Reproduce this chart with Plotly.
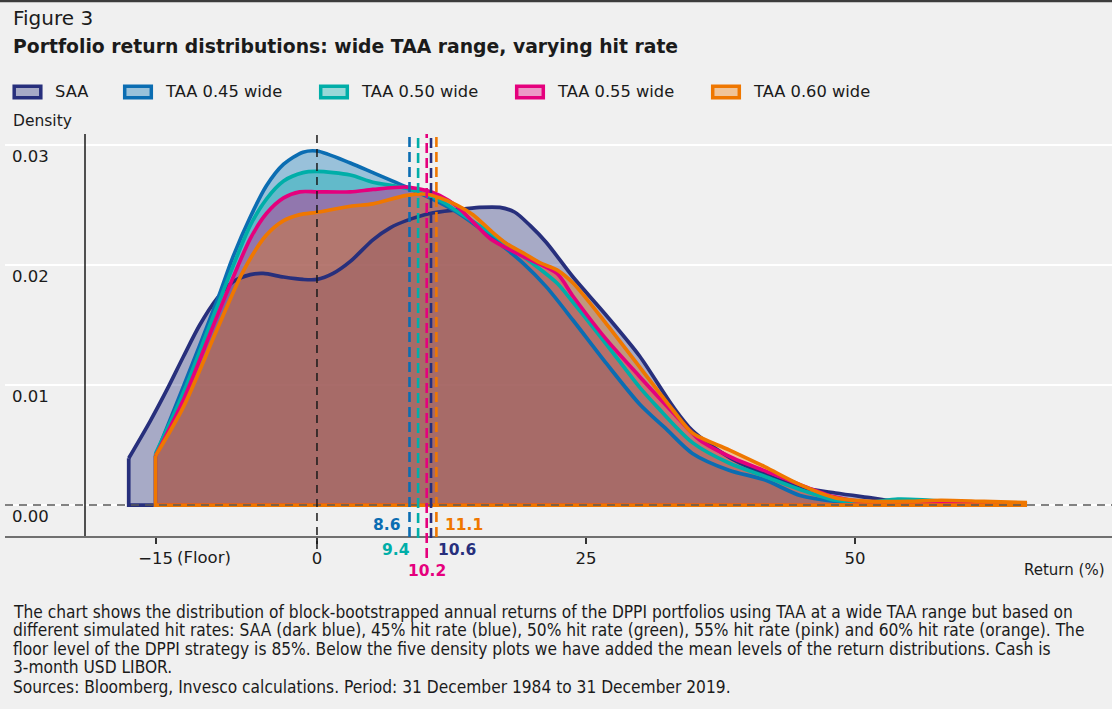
import plotly.graph_objects as go

# ---------------- data ----------------
names = ["SAA", "TAA 0.45 wide", "TAA 0.50 wide", "TAA 0.55 wide", "TAA 0.60 wide"]
means = [10.6, 8.6, 9.4, 10.2, 11.1]

saa_x = [-17.5, -15.5, -13.9, -12.4, -10.9, -9.3, -7.8, -6.2, -5.0, -3.1, -1.3, 0, 1.5, 3.1, 5.2, 6.8, 8.3,
         10.5, 13, 15.1, 17, 18.4, 19.8, 21.3, 23.8, 26.9, 30, 33.1, 34.9, 38.3, 41.6, 44.9, 48.2,
         51.5, 54, 58, 62, 66]
saa_y = [0.0039, 0.0070, 0.0097, 0.0124, 0.0150, 0.0172, 0.0186, 0.0192, 0.0193, 0.0190, 0.0188, 0.0188,
         0.0193, 0.0203, 0.0221, 0.0231, 0.0237, 0.0243, 0.0246, 0.0248, 0.0248, 0.0244, 0.0233,
         0.0219, 0.0190, 0.0158, 0.0124, 0.0082, 0.0062, 0.0040, 0.0026, 0.0015, 0.0010, 0.0006,
         0.0003, 0.0002, 0.0002, 0.0001]

taa45_x = [-15, -12.45, -9.3, -7.8, -6.2, -4.7, -3.1, -1.3, 0, 3.1, 5.2, 8.3, 11.4, 13, 16.1, 19.1,
           21.3, 23.8, 26.9, 30, 32.5, 34.9, 38.3, 41.6, 44.9, 48.2, 52, 58, 66]
taa45_y = [0.0041, 0.0098, 0.0170, 0.0207, 0.0240, 0.0266, 0.0284, 0.0294, 0.0295, 0.0285, 0.0277,
           0.0265, 0.0252, 0.0244, 0.0224, 0.0202, 0.0182, 0.0154, 0.0118, 0.0084, 0.0063, 0.0043,
           0.0029, 0.0021, 0.0008, 0.0003, 0.0001, 0.0001, 0.0001]

taa50_x = [-15, -12.45, -9.3, -6.2, -4.7, -3.1, -1.3, 0, 3.1, 5.2, 8.3, 11.4, 13, 16.1, 19.2, 22.3,
           23.8, 26.9, 30, 31.6, 34.9, 38.3, 41.6, 44.9, 48.2, 51, 54, 57, 61, 66]
taa50_y = [0.0043, 0.0093, 0.0165, 0.0233, 0.0255, 0.0270, 0.0277, 0.0278, 0.0275, 0.0269, 0.0264,
           0.0254, 0.0245, 0.0227, 0.0207, 0.0185, 0.0169, 0.0134, 0.0098, 0.0082, 0.0052, 0.0035,
           0.0024, 0.0013, 0.0004, 0.0002, 0.0005, 0.0004, 0.0002, 0.0001]

taa55_x = [-15, -12.4, -9.3, -6.2, -4.7, -3.1, -1.6, 0, 3.1, 5.2, 8.3, 10.2, 11.4, 13, 14.5, 16.1,
           19.2, 22.3, 23.8, 26.9, 30, 33.1, 35.6, 38.7, 41.8, 44.9, 48, 50.5, 55, 60, 66]
taa55_y = [0.0041, 0.0088, 0.0157, 0.0222, 0.0243, 0.0256, 0.0261, 0.0261, 0.0261, 0.0263, 0.0265,
           0.0262, 0.0258, 0.0249, 0.0236, 0.0222, 0.0207, 0.0193, 0.0174, 0.0138, 0.0107, 0.0077,
           0.0054, 0.0039, 0.0028, 0.0017, 0.0007, 0.0003, 0.0002, 0.0002, 0.0001]

taa60_x = [-15, -12.4, -9.3, -6.85, -4.7, -3.1, -1.6, 0, 3.1, 5.2, 8.3, 10.2, 11.4, 13, 14.5,
           16.1, 17.6, 19.2, 20.7, 22.3, 23.8, 26.9, 30, 33.1, 34.9, 38.3, 41.6, 44.9, 48.2, 51.5,
           55, 58, 62, 66]
taa60_y = [0.0041, 0.0082, 0.0146, 0.0195, 0.0225, 0.0237, 0.0242, 0.0244, 0.0249, 0.0251,
           0.0258, 0.0259, 0.0256, 0.0250, 0.0242, 0.0229, 0.0218, 0.0210, 0.0202, 0.0196, 0.0185,
           0.0151, 0.0115, 0.0079, 0.0060, 0.0046, 0.0032, 0.0017, 0.0006, 0.0003, 0.0003, 0.0004,
           0.0003, 0.0002]

series_x = [saa_x, taa45_x, taa50_x, taa55_x, taa60_x]
series_y = [saa_y, taa45_y, taa50_y, taa55_y, taa60_y]

x_tickvals = [-15, 0, 25, 50]
x_ticktext = ["\u221215", "0", "25", "50"]
y_tickvals = [0, 0.01, 0.02, 0.03]
y_ticktext = ["0.00", "0.01", "0.02", "0.03"]

note_lines = [
    "The chart shows the distribution of block-bootstrapped annual returns of the DPPI portfolios using TAA at a wide TAA range but based on",
    "different simulated hit rates: SAA (dark blue), 45% hit rate (blue), 50% hit rate (green), 55% hit rate (pink) and 60% hit rate (orange). The",
    "floor level of the DPPI strategy is 85%. Below the five density plots we have added the mean levels of the return distributions. Cash is",
    "3-month USD LIBOR.",
    "Sources: Bloomberg, Invesco calculations. Period: 31 December 1984 to 31 December 2019.",
]

# ---------------- style ----------------
line_colors = ["#272f7c", "#0b6db2", "#00aea8", "#e5007d", "#ef7700"]
fill_colors = ["rgba(39,47,124,0.36)", "rgba(0,110,180,0.36)", "rgba(0,175,176,0.36)",
               "rgba(230,0,126,0.36)", "rgba(240,120,0,0.36)"]
FONT = "DejaVu Sans, Noto Sans, sans-serif"
NOTE_FONT = "DejaVu Sans Condensed, Liberation Sans Narrow, Liberation Sans, sans-serif"
TXT = "#1b1b1b"
BG = "#f0f0f0"

W, H = 1112, 709
ML, MR, MT, MB = 5, 0, 134, 173
PW, PH = W - ML - MR, H - MT - MB


def px(xp):
    return (xp - ML) / PW


def py(yp):
    return (H - MB - yp) / PH


fig = go.Figure()

# fills (all under the outlines)
for xs, ys, fc in zip(series_x, series_y, fill_colors):
    fig.add_trace(go.Scatter(x=xs, y=ys, mode="lines", fill="tozeroy", fillcolor=fc,
                             line=dict(width=0, shape="spline", smoothing=0.8),
                             showlegend=False, hoverinfo="skip"))

# outlines
for xs, ys, lc, nm in zip(series_x, series_y, line_colors, names):
    fig.add_trace(go.Scatter(x=xs, y=ys, mode="lines", name=nm,
                             line=dict(color=lc, width=3.7, shape="spline", smoothing=0.8),
                             showlegend=False))
    fig.add_trace(go.Scatter(x=[xs[0], xs[0], xs[-1]], y=[ys[0], 0, 0], mode="lines",
                             line=dict(color=lc, width=3.7), showlegend=False, hoverinfo="skip"))

shapes = []
# zero-density dashed baseline
shapes.append(dict(type="line", xref="paper", yref="y", x0=0, x1=1, y0=0, y1=0,
                   line=dict(color="#5a5a5a", width=1.6, dash="8px,6px")))
# y axis solid line
shapes.append(dict(type="line", xref="paper", yref="paper", x0=px(85), x1=px(85), y0=0, y1=1,
                   line=dict(color="#1a1a1a", width=1.5)))
# zero return dashed line
shapes.append(dict(type="line", xref="x", yref="paper", x0=0, x1=0, y0=py(549), y1=1,
                   line=dict(color="#1a1a1a", width=1.5, dash="8px,6px")))
# top border
shapes.append(dict(type="line", xref="paper", yref="paper", x0=px(0), x1=px(W), y0=py(1), y1=py(1),
                   line=dict(color="#3c3c3c", width=2.5)))

# mean lines + labels
label_pos = {  # (xanchor, xshift, label y pixel, line bottom pixel)
    0: ("left", 5, 550, 538),
    1: ("right", -8, 525, 537),
    2: ("right", -6, 550, 538),
    3: ("center", 0, 571, 558),
    4: ("left", 7, 525, 537),
}
annotations = []
for i, (m, lc) in enumerate(zip(means, line_colors)):
    xa, xs_, ylab, ybot = label_pos[i]
    shapes.append(dict(type="line", xref="x", yref="paper", x0=m, x1=m, y0=py(ybot), y1=1,
                       line=dict(color=lc, width=2.6, dash="10px,5px")))
    annotations.append(dict(x=m, y=py(ylab), xref="x", yref="paper", text=f"<b>{m:.1f}</b>",
                            showarrow=False, xanchor=xa, yanchor="middle", xshift=xs_,
                            font=dict(family=FONT, size=15.5, color=lc)))

# manual legend (boxes + labels)
legend_x = [12.5, 123, 319, 515, 711]
for lx, nm, lc, fc in zip(legend_x, names, line_colors, fill_colors):
    shapes.append(dict(type="rect", xref="paper", yref="paper", x0=px(lx + 1.7), x1=px(lx + 28.3),
                       y0=py(97.8), y1=py(86.2), line=dict(color=lc, width=3.5), fillcolor=fc))
    annotations.append(dict(x=px(lx + 40), y=py(92), xref="paper", yref="paper", text=nm,
                            showarrow=False, xanchor="left", yanchor="middle",
                            font=dict(family=FONT, size=16.3, color=TXT)))

# titles and labels
annotations += [
    dict(x=px(11), y=py(18), xref="paper", yref="paper", text="Figure 3", showarrow=False,
         xanchor="left", yanchor="middle", font=dict(family=FONT, size=20, color=TXT)),
    dict(x=px(11), y=py(46), xref="paper", yref="paper",
         text="<b>Portfolio return distributions: wide TAA range, varying hit rate</b>",
         showarrow=False, xanchor="left", yanchor="middle", font=dict(family=FONT, size=18.8, color=TXT)),
    dict(x=px(11), y=py(121), xref="paper", yref="paper", text="Density", showarrow=False,
         xanchor="left", yanchor="middle", font=dict(family=FONT, size=15.5, color=TXT)),
    dict(x=px(1107), y=py(570), xref="paper", yref="paper", text="Return (%)", showarrow=False,
         xanchor="right", yanchor="middle", font=dict(family=FONT, size=15, color=TXT)),
    dict(x=-15, y=py(557), xref="x", yref="paper", text="(Floor)", showarrow=False,
         xanchor="left", yanchor="middle", xshift=19, font=dict(family=FONT, size=16.5, color=TXT)),
]
note_y = [611.5, 630, 648.5, 667, 687]
for t, yy in zip(note_lines, note_y):
    annotations.append(dict(x=px(11), y=py(yy), xref="paper", yref="paper", text=t, showarrow=False,
                            xanchor="left", yanchor="middle", align="left",
                            font=dict(family=NOTE_FONT, size=17.2, color=TXT)))

fig.update_layout(
    width=W, height=H,
    margin=dict(l=ML, r=MR, t=MT, b=MB, pad=0),
    paper_bgcolor=BG, plot_bgcolor=BG,
    showlegend=False,
    font=dict(family=FONT, size=16.5, color=TXT),
    shapes=shapes,
    annotations=annotations,
    xaxis=dict(range=[-29.0, 73.9], tickvals=x_tickvals, ticktext=x_ticktext,
               showgrid=False, zeroline=False, showline=True, linecolor="#707070", linewidth=2,
               ticks="outside", ticklen=6, tickwidth=1.5, tickcolor="#333333",
               tickfont=dict(family=FONT, size=16.5, color=TXT), fixedrange=True),
    yaxis=dict(range=[-0.00258, 0.03092], tickvals=y_tickvals, ticktext=y_ticktext,
               showgrid=True, gridcolor="#ffffff", gridwidth=2, zeroline=False, showline=False,
               ticks="", ticklabelposition="inside bottom", ticklabelstandoff=4,
               tickfont=dict(family=FONT, size=16.5, color=TXT), fixedrange=True),
)

fig.write_html("out.html", config={"displayModeBar": False},
               post_script="document.body.style.margin='0';document.body.style.overflow='hidden';")
